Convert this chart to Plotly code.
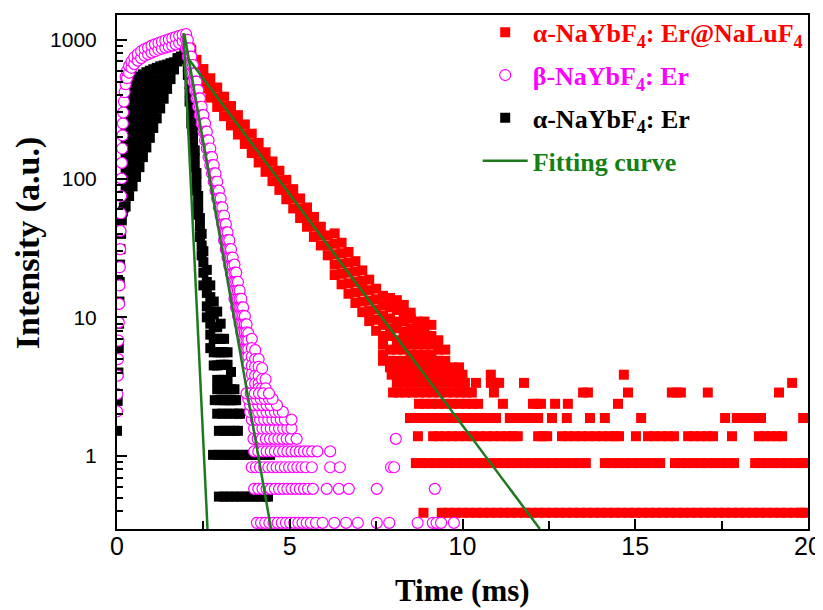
import plotly.graph_objects as go

# ---------------- α-NaYbF4:Er@NaLuF4 (red squares) ----------------
red_decay_t = [
    2.0, 2.05, 2.1, 2.1, 2.1, 2.15, 2.2, 2.2,
    2.3, 2.3, 2.3,
    2.5, 2.5, 2.5,
    2.7, 2.7, 2.7,
    2.9, 2.9, 2.9,
    3.1, 3.1, 3.1,
    3.3, 3.3, 3.3,
    3.5, 3.5, 3.5,
    3.7, 3.7, 3.7,
    3.9, 3.9, 3.9,
    4.1, 4.1, 4.1,
    4.3, 4.3, 4.3,
    4.5, 4.5, 4.5,
    4.7, 4.7, 4.7,
    4.9, 4.9, 4.9,
    5.1, 5.1, 5.1,
    5.3, 5.3, 5.3,
    5.5, 5.5, 5.5,
    5.7, 5.7, 5.7,
    5.9, 5.9, 5.9,
    6.1, 6.1, 6.1,
    6.3, 6.3, 6.3, 6.3, 6.3,
    6.5, 6.5, 6.5, 6.5, 6.5,
    6.7, 6.7, 6.7, 6.7, 6.7,
    6.9, 6.9, 6.9, 6.9, 6.9,
    7.1, 7.1, 7.1, 7.1, 7.1,
    7.3, 7.3, 7.3, 7.3, 7.3,
    7.5, 7.5, 7.5, 7.5, 7.5,
    7.7, 7.7, 7.7, 7.7, 7.7, 7.7, 7.7, 7.7,
    7.9, 7.9, 7.9, 7.9, 7.9, 7.9, 7.9, 7.9,
    8.1, 8.1, 8.1, 8.1, 8.1, 8.1, 8.1, 8.1,
    8.3, 8.3, 8.3, 8.3, 8.3, 8.3, 8.3, 8.3,
    8.5, 8.5, 8.5, 8.5, 8.5, 8.5, 8.5, 8.5,
    8.7, 8.7, 8.7, 8.7, 8.7, 8.7, 8.7,
    8.9, 8.9, 8.9, 8.9, 8.9, 8.9, 8.9,
    9.1, 9.1, 9.1, 9.1, 9.1, 9.1,
    9.3, 9.3, 9.3, 9.3,
    9.5, 9.5, 9.5,
    9.7, 9.9,
]
red_decay_v = [
    1000, 950, 880, 760, 640, 850, 700, 600,
    719, 612, 521,
    617, 525, 447,
    530, 451, 384,
    454, 386, 329,
    390, 332, 282,
    334, 284, 242,
    287, 244, 208,
    246, 209, 178,
    211, 179, 153,
    181, 154, 131,
    155, 132, 112,
    133, 113, 96,
    114, 97, 83,
    98, 83, 71,
    84, 72, 61,
    72, 61, 52,
    62, 53, 45,
    53, 45, 38,
    45, 39, 33,
    39, 33, 28,
    40.3, 33.9, 28.5, 24.0, 20.2,
    34.5, 29.0, 24.4, 20.6, 17.3,
    29.6, 24.9, 21.0, 17.6, 14.8,
    25.4, 21.4, 18.0, 15.1, 12.7,
    21.8, 18.3, 15.5, 13.0, 10.9,
    18.7, 15.7, 13.2, 11.1, 9.4,
    16.1, 13.5, 11.4, 9.6, 8.0,
    14.3, 12.2, 10.3, 8.83, 7.34, 6.35, 5.35, 4.86,
    13.8, 11.8, 9.82, 8.33, 7.34, 5.85, 4.86, 4.36,
    13.3, 11.3, 9.33, 8.33, 6.84, 5.85, 4.86, 4.36,
    12.3, 10.8, 9.33, 7.84, 6.84, 5.85, 4.86, 4.36,
    10.8, 9.82, 8.33, 7.34, 6.35, 5.35, 4.86, 4.36,
    9.33, 8.33, 7.34, 6.35, 5.35, 4.86, 4.36,
    9.33, 8.33, 7.34, 6.35, 5.35, 4.86, 4.36,
    8.83, 7.34, 6.35, 5.35, 4.86, 4.36,
    6.84, 5.85, 4.86, 4.36,
    5.85, 4.86, 4.36,
    4.36, 4.36,
]
# quantized (photon-count) levels in the red tail and the times where they occur
red_levels = [0.39, 0.89, 1.39, 1.88, 2.38, 2.87, 3.37, 3.86]
red_t_level0 = [8.87, 9.4, 9.6, 9.8, 10.0, 10.2, 10.4, 10.6, 10.8, 11.0, 11.2, 11.4, 11.6, 11.8,
                12.0, 12.2, 12.4, 12.6, 12.8, 13.0, 13.2, 13.4, 13.6, 13.8, 14.0, 14.2, 14.4,
                14.6, 14.8, 15.0, 15.2, 15.4, 15.6, 15.8, 16.0, 16.2, 16.4, 16.6, 16.8, 17.0,
                17.2, 17.4, 17.6, 17.8, 18.0, 18.2, 18.4, 18.6, 18.8, 19.0, 19.2, 19.4, 19.6,
                19.8, 19.9]
red_t_level1 = [8.65, 8.8, 9.0, 9.2, 9.4, 9.6, 9.8, 10.0, 10.2, 10.4, 10.6, 10.8, 11.0, 11.2,
                11.4, 11.6, 11.8, 12.0, 12.2, 12.4, 12.6, 12.8, 13.0, 13.2, 13.4, 13.57, 14.12,
                14.3, 14.5, 14.7, 14.9, 15.1, 15.3, 15.5, 15.72, 16.15, 16.3, 16.5, 16.7, 16.9,
                17.1, 17.3, 17.5, 17.7, 17.86, 18.47, 18.6, 18.8, 19.0, 19.2, 19.4, 19.6, 19.8,
                19.9]
red_t_level2 = [8.71, 9.15, 9.3, 9.5, 9.7, 9.9, 10.1, 10.3, 10.5, 10.7, 10.9, 11.1, 11.3, 11.45,
                11.6, 12.19, 12.32, 12.45, 12.88, 13.05, 13.25, 13.45, 13.65, 13.85, 14.05,
                14.25, 14.4, 14.53, 15.02, 15.37, 15.55, 15.75, 15.95, 16.12, 16.53, 16.7, 16.9,
                17.08, 17.25, 17.8, 18.58, 18.75, 18.92, 19.1, 19.25]
red_t_level3 = [8.48, 8.65, 8.85, 9.05, 9.25, 9.45, 9.65, 9.85, 10.05, 10.25, 10.45, 10.65,
                10.82, 10.97, 11.37, 11.55, 11.75, 11.95, 12.19, 12.59, 13.02, 13.69, 14.12,
                15.17, 17.6, 17.94, 18.12, 18.3, 18.48, 18.64, 19.86]
red_t_level4 = [8.74, 8.9, 9.1, 9.3, 9.5, 9.7, 9.9, 10.1, 10.3, 10.45, 11.17, 12.04, 12.15,
                12.27, 12.68, 13.05, 14.5]
red_t_level5 = [7.99, 8.15, 8.35, 8.55, 8.75, 8.95, 9.15, 9.35, 9.55, 9.75, 9.95, 10.12, 10.27,
                10.91, 13.49, 13.63, 14.79, 16.06, 16.2, 16.32, 17.1, 19.16]
red_t_level6 = [8.1, 8.3, 8.5, 8.7, 8.9, 9.1, 9.3, 9.5, 9.7, 9.9, 10.07, 10.39, 10.82, 10.95,
                11.06, 11.78, 19.54]
red_t_level7 = [7.95, 8.15, 8.35, 8.55, 8.75, 8.95, 9.15, 9.35, 9.55, 9.75, 10.0, 10.82, 14.67]

# ---------------- β-NaYbF4:Er (magenta open circles) ----------------
mag_rise_t = [0.00, 0.01, 0.02, 0.03, 0.04, 0.05, 0.06, 0.07, 0.08, 0.09, 0.10, 0.11, 0.12,
              0.13, 0.14, 0.15, 0.16, 0.17, 0.18, 0.20, 0.22,
              0.25, 0.25, 0.29, 0.29, 0.35, 0.35, 0.42, 0.42, 0.5, 0.5, 0.6, 0.6, 0.7, 0.7,
              0.8, 0.8, 0.9, 0.9, 1.0, 1.0, 1.1, 1.1, 1.2, 1.2, 1.3, 1.3, 1.4, 1.4, 1.5, 1.5,
              1.6, 1.6, 1.7, 1.7, 1.8, 1.8, 1.9, 1.9]
mag_rise_v = [2.1, 2.8, 3.8, 5.0, 6.8, 9.2, 12.5, 17, 23, 31, 42, 56, 75,
              100, 130, 165, 205, 250, 300, 360, 420,
              480, 540, 530, 600, 580, 650, 630, 700, 670, 750, 710, 790, 740, 830,
              770, 860, 790, 880, 810, 910, 830, 930, 850, 950, 865, 970, 880, 990, 895, 1010,
              910, 1030, 930, 1050, 950, 1070, 980, 1090]
mag_decay_t = [
    2.00, 2.00, 2.00, 2.05, 2.05, 2.05, 2.10, 2.10, 2.10, 2.15, 2.15, 2.15,
    2.20, 2.20, 2.20, 2.25, 2.25, 2.25, 2.30, 2.30, 2.30, 2.35, 2.35, 2.35,
    2.40, 2.40, 2.40, 2.45, 2.45, 2.45, 2.50, 2.50, 2.50, 2.55, 2.55, 2.55,
    2.60, 2.60, 2.60, 2.65, 2.65, 2.65, 2.70, 2.70, 2.70, 2.75, 2.75, 2.75,
    2.80, 2.80, 2.80, 2.85, 2.85, 2.85, 2.90, 2.90, 2.90, 2.95, 2.95, 2.95,
    3.00, 3.00, 3.00, 3.05, 3.05, 3.05, 3.10, 3.10, 3.10, 3.10,
    3.15, 3.15, 3.15, 3.15, 3.20, 3.20, 3.20, 3.20, 3.25, 3.25, 3.25, 3.25,
    3.30, 3.30, 3.30, 3.30, 3.35, 3.35, 3.35, 3.35, 3.40, 3.40, 3.40, 3.40, 3.40,
    3.45, 3.45, 3.45, 3.45, 3.45, 3.50, 3.50, 3.50, 3.50, 3.50,
    3.55, 3.55, 3.55, 3.55, 3.55, 3.60, 3.60, 3.60, 3.60, 3.60,
    3.65, 3.65, 3.65, 3.65, 3.65, 3.70, 3.70, 3.70, 3.70, 3.70,
    3.75, 3.75, 3.75, 3.75, 3.80, 3.80, 3.80, 3.80, 3.80,
    3.90, 3.90, 3.90, 3.90, 3.90, 3.90,
    4.00, 4.00, 4.00, 4.00, 4.00,
    4.10, 4.10, 4.10, 4.10, 4.10,
    4.20, 4.20, 4.20,
    4.30, 4.30,
]
mag_decay_v = [
    1100, 1000, 870, 1000, 870, 758, 870, 758, 660, 758, 660, 574,
    660, 574, 500, 574, 500, 435, 500, 435, 379, 435, 379, 330,
    379, 330, 287, 330, 287, 250, 287, 250, 218, 250, 218, 189,
    218, 189, 165, 189, 165, 143, 165, 143, 125, 143, 125, 109,
    125, 109, 95, 109, 95, 82, 95, 82, 72, 82, 72, 62,
    72, 62, 54, 62, 54, 47, 54, 47, 41, 36,
    47, 41, 36, 31, 41, 36, 31, 27, 36, 31, 27, 23.6,
    31, 27, 23.6, 20.6, 27, 23.6, 20.6, 17.9, 24, 21, 18, 15.6, 13.6,
    21, 18, 15.6, 13.6, 11.8, 18, 15.6, 13.6, 11.8, 10.3,
    15.6, 13.6, 11.8, 10.3, 9.0, 13.6, 11.8, 10.3, 9.0, 7.8,
    11.8, 10.3, 9.0, 7.8, 6.8, 10.2, 8.9, 7.8, 6.8, 5.9,
    8.9, 7.8, 6.8, 5.9, 7.7, 6.8, 5.9, 5.2, 4.6,
    7.0, 6.0, 5.2, 4.5, 3.9, 3.33,
    5.8, 5.0, 4.4, 3.8, 3.33,
    5.0, 4.4, 3.8, 3.33, 3.08,
    4.3, 3.58, 3.08,
    3.58, 3.08,
]
mag_levels = [0.33, 0.58, 0.83, 1.08, 1.33, 1.58, 1.83, 2.08, 2.33, 2.58, 2.83]
mag_t_level0 = [4.05, 4.17, 4.29, 4.41, 4.53, 4.65, 4.77, 4.89, 5.01, 5.13, 5.25, 5.37, 5.49,
                5.61, 5.76, 5.95, 6.29, 6.63, 6.97, 7.52, 7.88, 8.7, 9.14, 9.25, 9.38, 9.75]
mag_t_level1 = [3.97, 4.09, 4.21, 4.33, 4.45, 4.57, 4.69, 4.81, 4.93, 5.05, 5.17, 5.29, 5.41,
                5.53, 5.67, 6.07, 6.42, 6.71, 7.52, 9.2]
mag_t_level2 = [3.9, 4.02, 4.14, 4.26, 4.38, 4.5, 4.62, 4.74, 4.86, 4.98, 5.1, 5.22, 5.34,
                5.46, 5.64, 6.17, 6.45, 7.93, 8.02]
mag_t_level3 = [3.97, 4.09, 4.21, 4.33, 4.45, 4.57, 4.69, 4.81, 4.93, 5.05, 5.17, 5.29, 5.41,
                5.53, 5.65, 5.8, 6.17]
mag_t_level4 = [3.95, 4.07, 4.19, 4.31, 4.43, 4.55, 4.67, 4.79, 4.91, 5.03, 5.2, 8.07]
mag_t_level5 = [3.97, 4.09, 4.21, 4.33, 4.45, 4.57, 4.69, 4.81, 4.93, 5.05]
mag_t_level6 = [3.9, 4.02, 4.14, 4.26, 4.38, 4.5, 4.62, 4.74, 4.86, 5.05]
mag_t_level7 = [3.85, 3.97, 4.09, 4.21, 4.33, 4.45, 4.57, 4.69, 4.8]
mag_t_level8 = [3.85, 3.97, 4.09, 4.21, 4.33, 4.45, 4.63]
mag_t_level9 = [3.8, 3.92, 4.04, 4.16, 4.28, 4.4, 4.5]
mag_t_level10 = [3.75, 3.87, 3.99, 4.11, 4.23, 4.4]

# ---------------- α-NaYbF4:Er (black squares) ----------------
blk_rise_t = [
    0.00, 0.02, 0.04, 0.05, 0.06, 0.07, 0.08, 0.09, 0.10, 0.12, 0.14, 0.17, 0.20,
    0.25, 0.25, 0.25, 0.25, 0.25, 0.25, 0.25, 0.25, 0.25, 0.25, 0.25, 0.25,
    0.35, 0.35, 0.35, 0.35, 0.35, 0.35, 0.35, 0.35, 0.35, 0.35, 0.35, 0.35,
    0.45, 0.45, 0.45, 0.45, 0.45, 0.45, 0.45, 0.45, 0.45, 0.45, 0.45, 0.45,
    0.55, 0.55, 0.55, 0.55, 0.55, 0.55, 0.55, 0.55, 0.55, 0.55, 0.55,
    0.65, 0.65, 0.65, 0.65, 0.65, 0.65, 0.65, 0.65, 0.65, 0.65, 0.65,
    0.75, 0.75, 0.75, 0.75, 0.75, 0.75, 0.75, 0.75, 0.75, 0.75,
    0.85, 0.85, 0.85, 0.85, 0.85, 0.85, 0.85, 0.85, 0.85,
    0.95, 0.95, 0.95, 0.95, 0.95, 0.95, 0.95, 0.95,
    1.05, 1.05, 1.05, 1.05, 1.05, 1.05, 1.05,
    1.15, 1.15, 1.15, 1.15, 1.15, 1.15,
    1.25, 1.25, 1.25, 1.25, 1.25, 1.25,
    1.35, 1.35, 1.35, 1.35, 1.35,
    1.45, 1.45, 1.45, 1.45,
    1.55, 1.55, 1.55,
    1.65, 1.65,
    1.75, 1.75,
    1.85, 1.85, 1.95, 2.0,
]
blk_rise_v = [
    1.52, 2.5, 4.0, 6, 9, 13, 18, 24, 31, 40, 50, 58, 62,
    63, 74, 87, 102, 120, 141, 166, 195, 229, 269, 316, 371,
    75, 88, 104, 122, 143, 168, 198, 232, 273, 321, 377, 443,
    88, 103, 121, 143, 168, 197, 232, 272, 320, 376, 442, 490,
    103, 121, 142, 167, 196, 231, 271, 318, 374, 440, 517,
    121, 142, 167, 196, 230, 271, 318, 374, 439, 516, 545,
    143, 168, 197, 232, 272, 320, 376, 442, 519, 565,
    168, 197, 232, 273, 320, 376, 442, 519, 585,
    197, 231, 272, 319, 375, 441, 518, 600,
    232, 273, 320, 376, 442, 519, 615,
    272, 320, 376, 441, 519, 630,
    321, 377, 443, 520, 611, 645,
    377, 443, 520, 611, 655,
    444, 522, 613, 665,
    522, 613, 680,
    613, 690,
    700, 740,
    725, 760, 800, 830,
]
blk_decay_t = [
    2.05, 2.05, 2.10, 2.10, 2.10, 2.15, 2.15, 2.15, 2.20, 2.20, 2.20,
    2.25, 2.25, 2.25, 2.30, 2.30, 2.30, 2.35, 2.35, 2.35, 2.40, 2.40, 2.40,
    2.45, 2.45, 2.45, 2.50, 2.50, 2.50, 2.50,
    2.60, 2.60, 2.60, 2.60, 2.60,
    2.70, 2.70, 2.70, 2.70, 2.70, 2.70,
    2.80, 2.80, 2.80, 2.80, 2.80, 2.80,
    2.90, 2.90, 2.90, 2.90, 2.90, 2.90, 2.90,
    3.00, 3.00, 3.00, 3.00, 3.00, 3.00,
    3.10, 3.10, 3.10, 3.10, 3.10, 3.10,
    3.20, 3.20, 3.20, 3.20, 3.20,
    3.30, 3.30, 3.30, 3.40, 3.40,
]
blk_decay_v = [
    640, 560, 480, 420, 360, 330, 290, 250, 230, 200, 170,
    160, 140, 120, 110, 95, 82, 75, 64, 55, 52, 45, 38,
    40, 33, 28, 30, 25, 21, 17,
    22, 18, 15, 12, 10,
    17, 14, 11, 9, 7.5, 6,
    13, 10.5, 8.5, 7, 5.6, 4.5,
    11, 8.5, 7, 5.6, 4.5, 3.54, 3.03,
    9, 7, 5.6, 4.55, 3.54, 3.03,
    7, 5.6, 4.55, 3.54, 3.03, 2.53,
    5.6, 4.55, 3.54, 3.03, 2.53,
    4.04, 3.03, 2.53, 3.03, 2.53,
]
blk_levels = [0.51, 1.02, 1.52, 2.02, 2.53]
blk_t_level0 = [2.95, 3.1, 3.25, 3.4, 3.55, 3.7, 3.85, 4.0, 4.15, 4.3, 4.37]
blk_t_level1 = [2.78, 2.93, 3.08, 3.23, 3.38, 3.53, 3.68, 3.83, 3.98, 4.13, 4.28, 4.43]
blk_t_level2 = [2.95, 3.1, 3.25, 3.4, 3.5]
blk_t_level3 = [2.9, 3.05, 3.2, 3.35, 3.5, 3.56]
blk_t_level4 = [2.83, 2.98, 3.13, 3.28, 3.45]

# ---------------- single-exponential fitting curves (green) ----------------
fit_blk_t = [1.925, 2.62]
fit_blk_v = [1122, 0.298]
fit_mag_t = [1.95, 4.46]
fit_mag_v = [1104, 0.298]
fit_red_t = [2.03, 12.24]
fit_red_v = [753, 0.298]


def assemble(base_t, base_v, levels, level_times):
    xs, ys = list(base_t), list(base_v)
    for lev, ts in zip(levels, level_times):
        xs += ts
        ys += [lev] * len(ts)
    return xs, ys


red_x, red_y = assemble(red_decay_t, red_decay_v, red_levels,
                        [red_t_level0, red_t_level1, red_t_level2, red_t_level3,
                         red_t_level4, red_t_level5, red_t_level6, red_t_level7])
mag_x, mag_y = assemble(mag_rise_t + mag_decay_t, mag_rise_v + mag_decay_v, mag_levels,
                        [mag_t_level0, mag_t_level1, mag_t_level2, mag_t_level3,
                         mag_t_level4, mag_t_level5, mag_t_level6, mag_t_level7,
                         mag_t_level8, mag_t_level9, mag_t_level10])
blk_x, blk_y = assemble(blk_rise_t + blk_decay_t, blk_rise_v + blk_decay_v, blk_levels,
                        [blk_t_level0, blk_t_level1, blk_t_level2, blk_t_level3,
                         blk_t_level4])

RED, MAG, GRN = "#ff0000", "#ff00ff", "#1f7a1f"
SERIF = "Liberation Serif, Times New Roman, serif"

fig = go.Figure()
fig.add_trace(go.Scatter(
    x=red_x, y=red_y, mode="markers", legendrank=1, legendgroup="a",
    name='<b><span style="color:#ff0000">α-NaYbF<sub>4</sub>: Er@NaLuF<sub>4</sub></span></b>',
    marker=dict(symbol="square", size=10, color=RED, line=dict(width=0))))
fig.add_trace(go.Scatter(
    x=blk_x, y=blk_y, mode="markers", legendrank=3, legendgroup="c",
    name='<b><span style="color:#000000">α-NaYbF<sub>4</sub>: Er</span></b>',
    marker=dict(symbol="square", size=10, color="black", line=dict(width=0))))
fig.add_trace(go.Scatter(
    x=mag_x, y=mag_y, mode="markers", legendrank=2, legendgroup="b",
    name='<b><span style="color:#ff00ff">β-NaYbF<sub>4</sub>: Er</span></b>',
    marker=dict(symbol="circle", size=11, color="white", line=dict(width=1.2, color=MAG))))
fig.add_trace(go.Scatter(
    x=fit_red_t, y=fit_red_v, mode="lines", legendrank=4, legendgroup="d",
    name='<b><span style="color:#138013">Fitting curve</span></b>',
    line=dict(color=GRN, width=2.5)))
fig.add_trace(go.Scatter(x=fit_mag_t, y=fit_mag_v, mode="lines", showlegend=False,
                         line=dict(color=GRN, width=2.5)))
fig.add_trace(go.Scatter(x=fit_blk_t, y=fit_blk_v, mode="lines", showlegend=False,
                         line=dict(color=GRN, width=2.5)))

tickfont = dict(family="Liberation Sans, Arial", size=21, color="black")
# the page body adds an 8 px offset, so the figure is 8 px smaller and margins shifted
fig.update_layout(
    width=815, height=602,
    margin=dict(l=109, r=15, t=7, b=81, autoexpand=False),
    paper_bgcolor="white", plot_bgcolor="white",
    showlegend=True,
    legend=dict(x=0.522, y=1.012, xanchor="left", yanchor="top",
                bgcolor="rgba(0,0,0,0)", tracegroupgap=6, itemwidth=45,
                font=dict(family=SERIF, size=26)),
    xaxis=dict(range=[0, 20], tickvals=[0, 5, 10, 15, 20], ticks="inside", ticklen=10,
               tickwidth=2, tickcolor="black", showline=True, linewidth=2, linecolor="black",
               mirror=True, showgrid=False, zeroline=False, automargin=False,
               tickfont=dict(tickfont, size=25), ticklabelstandoff=-6,
               minor=dict(tickvals=[2.5, 7.5, 12.5, 17.5], ticks="inside", ticklen=8,
                          tickwidth=2, tickcolor="black")),
    yaxis=dict(type="log", range=[-0.526, 3.18], tickvals=[1, 10, 100, 1000],
               ticktext=["1", "10", "100", "1000"], ticks="inside", ticklen=10, tickwidth=2,
               tickcolor="black", showline=True, linewidth=2, linecolor="black", mirror=True,
               showgrid=False, zeroline=False, automargin=False, tickfont=tickfont,
               ticklabelstandoff=14,
               minor=dict(tickvals=[0.3, 0.4, 0.5, 0.6, 0.7, 0.8, 0.9,
                                    2, 3, 4, 5, 6, 7, 8, 9,
                                    20, 30, 40, 50, 60, 70, 80, 90,
                                    200, 300, 400, 500, 600, 700, 800, 900],
                          ticks="inside", ticklen=6, tickwidth=1.5, tickcolor="black")),
    annotations=[
        dict(text="<b>Time (ms)</b>", xref="paper", yref="paper", x=0.5, y=-0.1206,
             xanchor="center", yanchor="middle", showarrow=False,
             font=dict(family=SERIF, size=31, color="black")),
        dict(text="<b>Intensity (a.u.)</b>", xref="paper", yref="paper", x=-0.1288, y=0.558,
             xanchor="center", yanchor="middle", showarrow=False, textangle=-90,
             font=dict(family=SERIF, size=34, color="black")),
    ],
)

fig.write_html("out.html")
